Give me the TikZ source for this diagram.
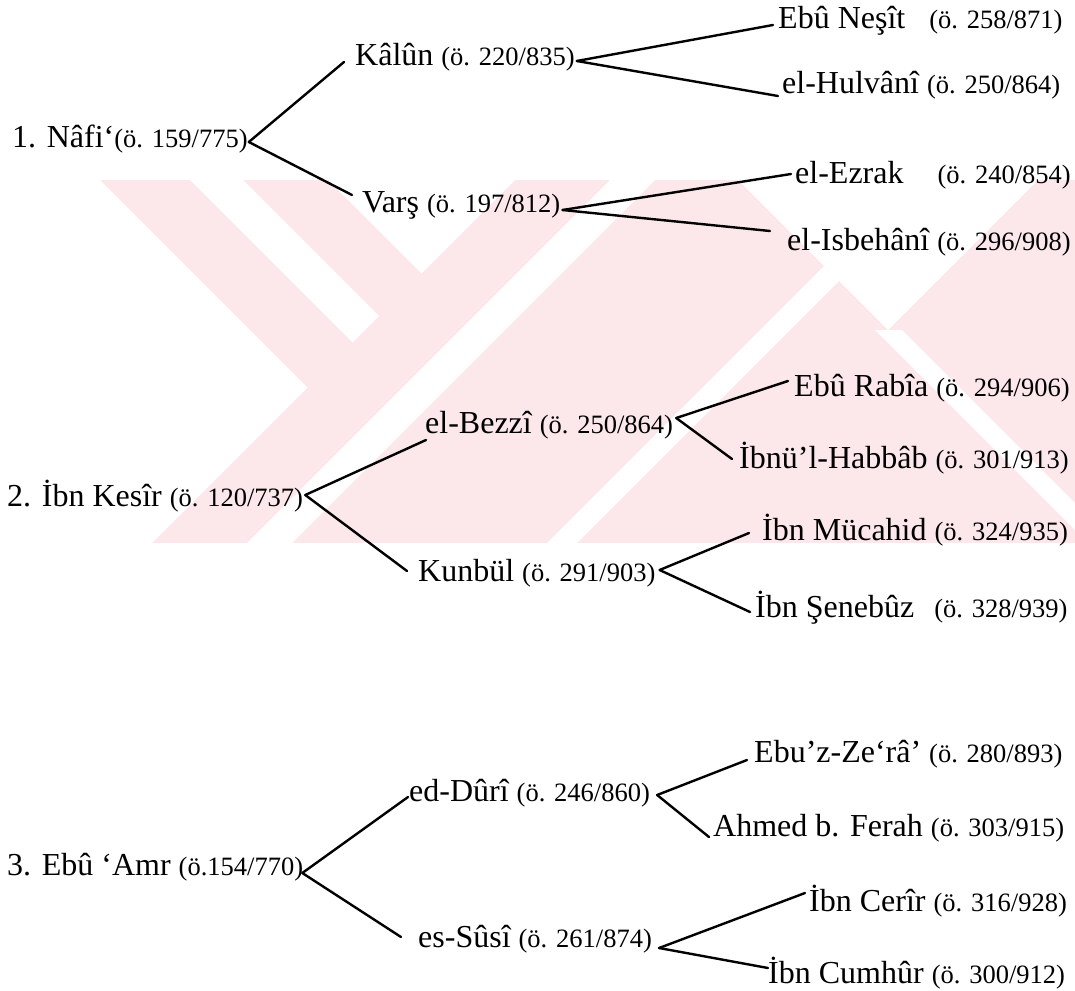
\documentclass[tikz,border=0pt]{standalone}
\usepackage{fontspec}
\setmainfont{Liberation Serif}
\definecolor{wm}{RGB}{252,231,235}
\tikzset{
  nm/.style={inner sep=0pt, anchor=base west, font=\fontsize{32}{38}\selectfont},
  ln/.style={line width=2.4pt, line cap=round, draw=black},
  wmw/.style={fill=white, draw=none},
}
\newcommand\dt[1]{{\fontsize{26.5}{30}\selectfont #1}}
\begin{document}
\begin{tikzpicture}[x=1pt,y=-1pt]
\useasboundingbox (0,0) rectangle (1075,990);
% watermark
\begin{scope}
  \clip (0,180) rectangle (1075,543);
  \fill[wm] (0,180) rectangle (1075,543);
  \fill[wmw] (-10,170) -- (90,170) -- (307.5,387.5) -- (142,553) -- (-10,553) -- cycle;
  \fill[wmw] (318,170) -- (421.5,273.5) -- (525,170) -- cycle;
  \fill[wmw] (728,170) -- (888,330) -- (1048,170) -- cycle;
  \fill[wmw] (180,170) -- (233,170) -- (379,316) -- (352.5,342.5) -- cycle;
  \fill[wmw] (620,170) -- (665,170) -- (282,553) -- (237,553) -- cycle;
  \fill[wmw] (920,170) -- (950,170) -- (567,553) -- (537,553) -- cycle;
  \fill[wmw] (875,330) -- (902,330) -- (1125,553) -- (1098,553) -- cycle;
\end{scope}

% ---------- tree 1
\node[nm] (n1) at (12,147) {1. Nâfi‘\dt{(ö. 159/775)}};
\node[nm] (k)  at (355,66) {Kâlûn \dt{(ö. 220/835)}};
\node[nm] (v)  at (362,212) {Varş \dt{(ö. 197/812)}};
\node[nm] (en) at (778,29) {Ebû Neşît\hspace{24pt}\dt{(ö. 258/871)}};
\node[nm] (eh) at (782,93) {el-Hulvânî \dt{(ö. 250/864)}};
\node[nm] (ez) at (795,183) {el-Ezrak\hspace{34pt}\dt{(ö. 240/854)}};
\node[nm] (ei) at (787,250) {el-Isbehânî \dt{(ö. 296/908)}};

\coordinate (n1o) at ([shift={(1pt,5pt)}]n1.base east);
\coordinate (ki)  at ([shift={(-11pt,4pt)}]k.base west);
\coordinate (ko)  at ([shift={(2pt,5pt)}]k.base east);
\coordinate (vi)  at ([shift={(-10pt,17pt)}]v.base west);
\coordinate (vo)  at ([shift={(2pt,2pt)}]v.base east);
\coordinate (eni) at ([shift={(-5pt,4pt)}]en.base west);
\coordinate (ehi) at ([shift={(-4pt,-3pt)}]eh.base west);
\coordinate (ezi) at ([shift={(-4pt,9pt)}]ez.base west);
\coordinate (eii) at ([shift={(-17pt,19pt)}]ei.base west);

\draw[ln] (n1o) -- (ki);
\draw[ln] (n1o) -- (vi);
\draw[ln] (ko) -- (eni);
\draw[ln] (ko) -- (ehi);
\draw[ln] (vo) -- (ezi);
\draw[ln] (vo) -- (eii);

% ---------- tree 2
\node[nm] (ik) at (7,506) {2. İbn Kesîr \dt{(ö. 120/737)}};
\node[nm] (bz) at (425,433) {el-Bezzî \dt{(ö. 250/864)}};
\node[nm] (kb) at (418,581) {Kunbül \dt{(ö. 291/903)}};
\node[nm] (er) at (794,396) {Ebû Rabîa \dt{(ö. 294/906)}};
\node[nm] (ih) at (739,468) {İbnü’l-Habbâb \dt{(ö. 301/913)}};
\node[nm] (im) at (762,540) {İbn Mücahid \dt{(ö. 324/935)}};
\node[nm] (is) at (755,617) {İbn Şenebûz\hspace{20pt}\dt{(ö. 328/939)}};

\coordinate (iko) at ([shift={(2pt,11pt)}]ik.base east);
\coordinate (bzi) at ([shift={(1pt,-7pt)}]bz.base west);
\coordinate (bzo) at ([shift={(3pt,15pt)}]bz.base east);
\coordinate (kbi) at ([shift={(-11pt,10pt)}]kb.base west);
\coordinate (kbo) at ([shift={(4pt,11pt)}]kb.base east);
\coordinate (eri) at ([shift={(-6pt,15pt)}]er.base west);
\coordinate (ihi) at ([shift={(-7pt,9pt)}]ih.base west);
\coordinate (imi) at ([shift={(-13pt,7pt)}]im.base west);
\coordinate (isi) at ([shift={(-5pt,5pt)}]is.base west);

\draw[ln] (iko) -- (bzi);
\draw[ln] (iko) -- (kbi);
\draw[ln] (bzo) -- (eri);
\draw[ln] (bzo) -- (ihi);
\draw[ln] (kbo) -- (imi);
\draw[ln] (kbo) -- (isi);

% ---------- tree 3
\node[nm] (ea) at (7,875) {3. Ebû ‘Amr \dt{(ö.154/770)}};
\node[nm] (dr) at (409,801) {ed-Dûrî \dt{(ö. 246/860)}};
\node[nm] (ss) at (418,947) {es-Sûsî \dt{(ö. 261/874)}};
\node[nm] (zr) at (754,762) {Ebu’z-Ze‘râ’ \dt{(ö. 280/893)}};
\node[nm] (ah) at (713,836) {Ahmed b. Ferah \dt{(ö. 303/915)}};
\node[nm] (ic) at (809,911) {İbn Cerîr \dt{(ö. 316/928)}};
\node[nm] (cu) at (768,983) {İbn Cumhûr \dt{(ö. 300/912)}};

\coordinate (eao) at ([shift={(-1pt,2pt)}]ea.base east);
\coordinate (dri) at ([shift={(-1pt,4pt)}]dr.base west);
\coordinate (dro) at ([shift={(7pt,6pt)}]dr.base east);
\coordinate (ssi) at ([shift={(-17pt,10pt)}]ss.base west);
\coordinate (sso) at ([shift={(7pt,-1pt)}]ss.base east);
\coordinate (zri) at ([shift={(-7pt,2pt)}]zr.base west);
\coordinate (ahi) at ([shift={(-4pt,-1pt)}]ah.base west);
\coordinate (ici) at ([shift={(-4pt,18pt)}]ic.base west);
\coordinate (cui) at ([shift={(0pt,15pt)}]cu.base west);

\draw[ln] (eao) -- (dri);
\draw[ln] (eao) -- (ssi);
\draw[ln] (dro) -- (zri);
\draw[ln] (dro) -- (ahi);
\draw[ln] (sso) -- (ici);
\draw[ln] (sso) -- (cui);
\end{tikzpicture}
\end{document}
